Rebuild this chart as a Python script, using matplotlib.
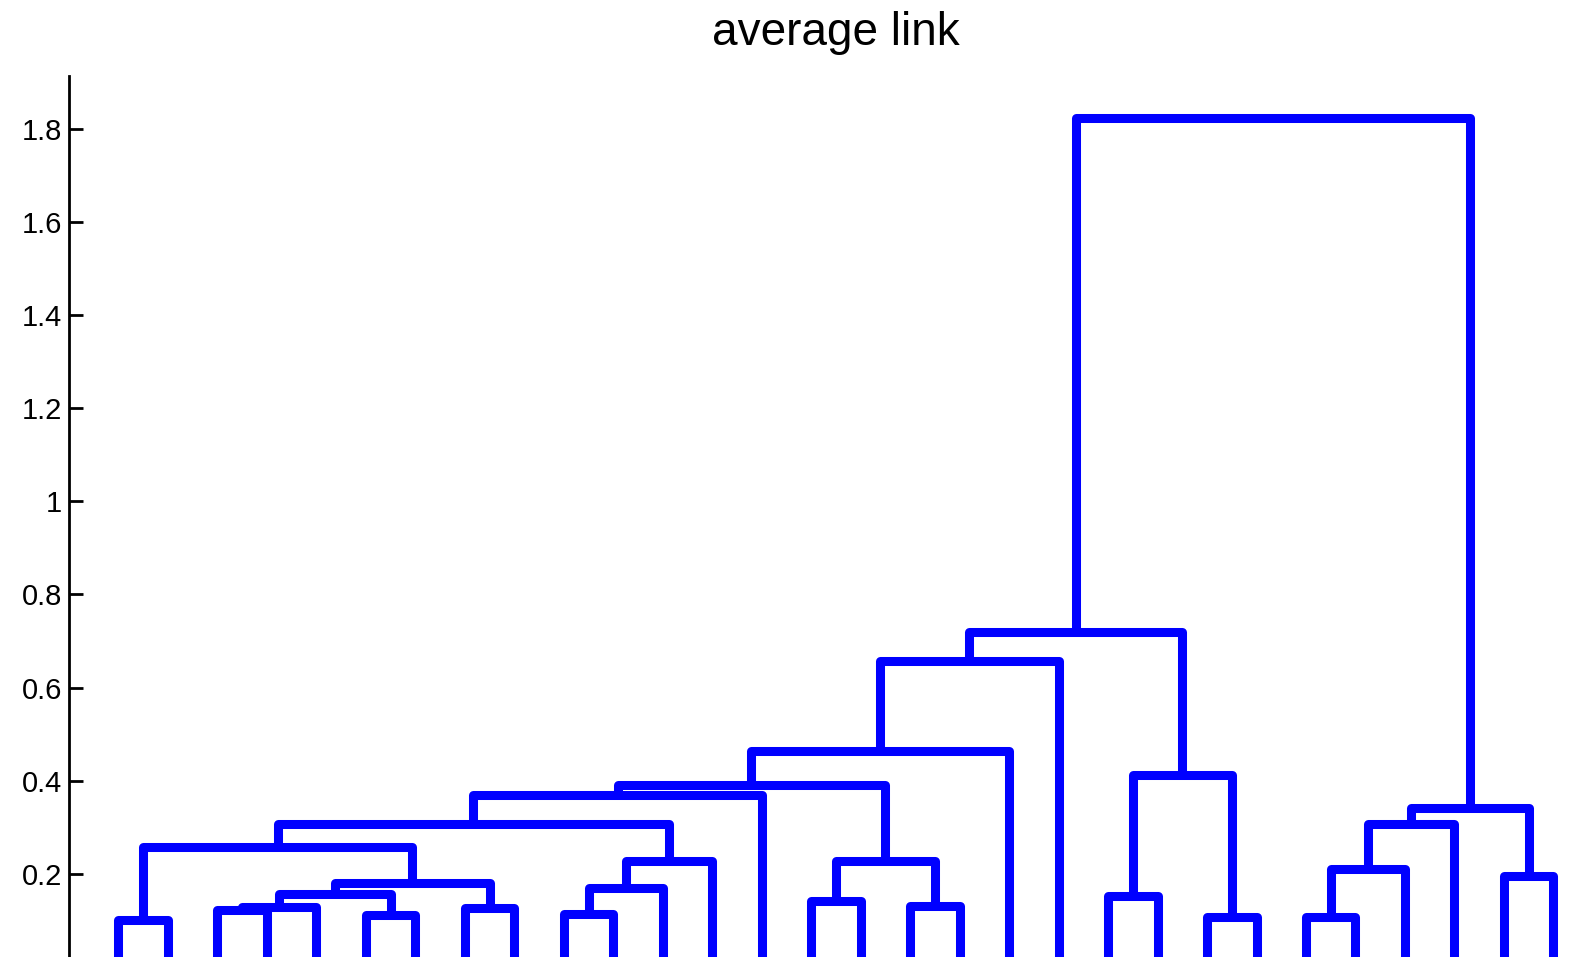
import matplotlib
matplotlib.use("Agg")
import matplotlib.pyplot as plt
import numpy as np

plt.rcParams['font.family'] = ['Liberation Sans', 'DejaVu Sans']

# Linkage of 30 observations (average link). Leaves are 1..30,
# merged clusters get ids 31..59 in the order they are formed.
n_leaves = 30
left_child = [1, 23, 25, 6, 10, 3, 8, 36, 17, 15,
              21, 38, 35, 42, 29, 33, 43, 40, 31, 46,
              49, 50, 51, 53, 41, 54, 56, 57, 58]
right_child = [2, 24, 26, 7, 11, 4, 9, 5, 18, 16,
               22, 34, 12, 37, 30, 27, 13, 39, 44, 28,
               47, 45, 14, 48, 32, 19, 20, 55, 52]
merge_height = [0.100, 0.107, 0.107, 0.111, 0.114, 0.1215, 0.126, 0.1286, 0.130, 0.141,
                0.1515, 0.157, 0.169, 0.180, 0.194, 0.210, 0.227, 0.227, 0.257, 0.306,
                0.307, 0.3415, 0.369, 0.391, 0.413, 0.464, 0.656, 0.720, 1.823]
yticks = [0.2, 0.4, 0.6, 0.8, 1.0, 1.2, 1.4, 1.6, 1.8]

# node positions: leaves sit at 1..n, a cluster sits midway between its children
xpos = {i: float(i) for i in range(1, n_leaves + 1)}
ypos = {i: 0.0 for i in range(1, n_leaves + 1)}

fig = plt.figure(figsize=(15.91, 9.57), dpi=100)
ax = fig.add_axes([0.04337, -0.01014, 0.9641, 0.93073])

for k, (a, b, h) in enumerate(zip(left_child, right_child, merge_height)):
    node = n_leaves + 1 + k
    xpos[node] = (xpos[a] + xpos[b]) / 2
    ypos[node] = h
    ax.plot([xpos[a], xpos[a], xpos[b], xpos[b]],
            [ypos[a], h, h, ypos[b]],
            color=(0, 0, 1), lw=6.5, solid_joinstyle='round', solid_capstyle='butt')

ax.set_xlim(0, n_leaves + 1)
ax.set_ylim(0, 1.05 * max(merge_height))

ax.set_yticks(yticks)
ax.set_yticklabels(['%g' % v for v in yticks])
ax.tick_params(axis='y', direction='in', length=10, width=2, pad=5, labelsize=21)
ax.set_xticks([])

for s in ['top', 'right', 'bottom']:
    ax.spines[s].set_visible(False)
ax.spines['left'].set_linewidth(2)

ax.set_title('average link', fontsize=33, pad=22)

fig.savefig('out.png', dpi=100)
